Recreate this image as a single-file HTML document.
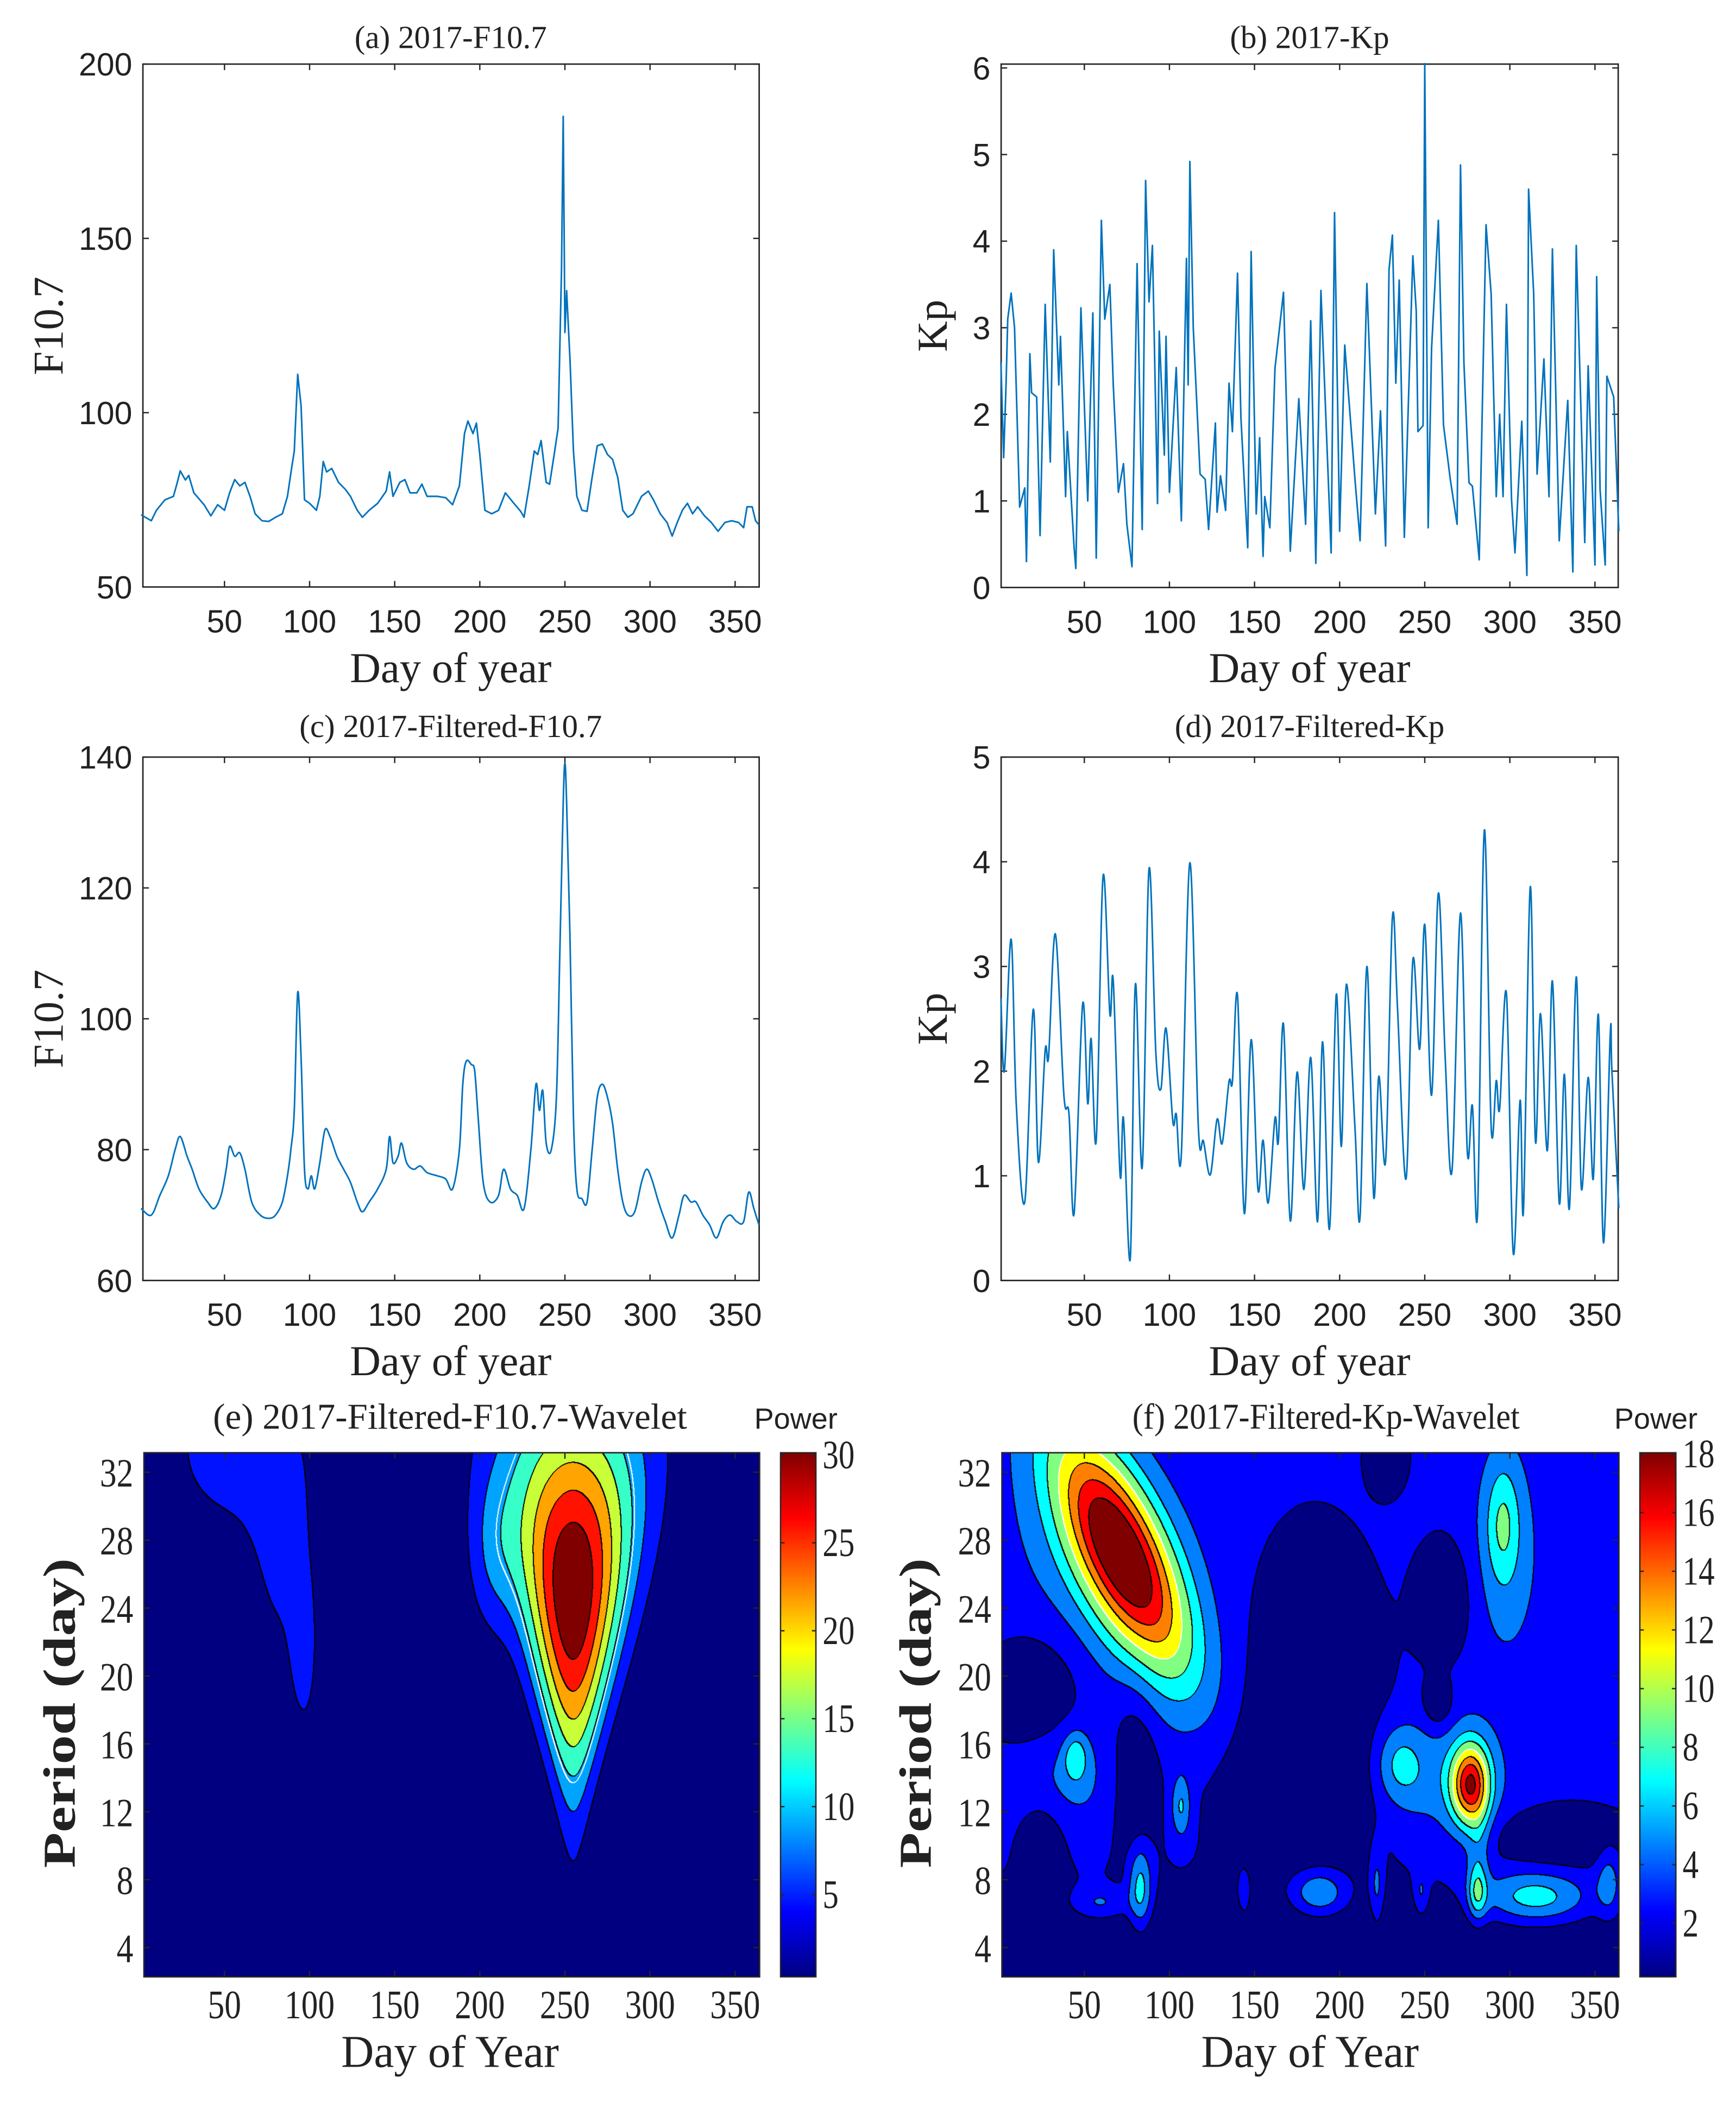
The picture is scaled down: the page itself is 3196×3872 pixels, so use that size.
<!DOCTYPE html>
<html><head><meta charset="utf-8">
<style>
html,body{margin:0;padding:0;background:#fff;}
#wrap{position:relative;width:3196px;height:3872px;overflow:hidden;background:#fff;}
canvas{position:absolute;}
svg{position:absolute;left:0;top:0;}
</style></head>
<body>
<div id="wrap">
<canvas id="cvE"></canvas>
<canvas id="cvF"></canvas>
<svg id="svg" width="3196" height="3872" viewBox="0 0 1300 1575" xmlns="http://www.w3.org/2000/svg">
<defs>
<linearGradient id="jetGrad" x1="0" y1="1" x2="0" y2="0">
<stop offset="0" stop-color="#000080"/><stop offset="0.125" stop-color="#0000ff"/><stop offset="0.375" stop-color="#00ffff"/><stop offset="0.625" stop-color="#ffff00"/><stop offset="0.875" stop-color="#ff0000"/><stop offset="1" stop-color="#800000"/>
</linearGradient>
</defs>
</svg>
</div>
<script>
// ---------------- DATA ----------------
const f107Days = [1,7,10,15,20,22,24,27,29,32,38,42,46,50,53,56,59,62,65,68,72,76,80,84,87,89,91,93,95,97,100,104,106,108,110,113,117,121,124,128,131,135,140,145,147,149,153,156,159,163,166,169,175,180,184,188,191,193,196,198,200,203,207,211,215,220,224,226,229,232,234,236,239,241,244,246,248,249,250,251,253,255,257,260,263,266,269,272,275,278,281,284,287,290,295,299,302,306,310,313,316,319,322,325,328,332,336,340,344,348,352,355,357,360,362,364];
const f107Vals = [70.7,69,72,75,76,79.5,83.3,80.7,82,77,73.6,70.4,73.6,72,77,80.8,79,80,76,71,69,68.8,70,71,76,82.7,89,111,102,75,74,72,76,86,83,84,80,78,76,72,70,72,74,77.5,83,76,80,80.8,77,77,79.5,76,76,75.6,73.6,79,94,97.6,94,97,88,72,71,72,77,74,71.7,70,79,89,88,92,80,79.5,89,95.6,141,185,123,135,115,89,76,72,71.7,81.5,90.5,91,88,86.6,81.5,72,70,71,76,77.5,75,71,68.5,64.6,68.5,72,74,71,73,70.4,68.5,66,68.5,69,68.5,67,73,73,69,67.8];

const kpDays = [1,2.6,4,5,7,9,12,15,16,18,19,22,24,27,30,32,35,36,39,40,44,45,48,52,55,57,60,62,65,67,70,73,75,78,81,84,86,88,90,93,94,97,98,100,104,107,110,111,112,114,118,121,123,127,128,130,133,135,137,140,142,146,148,151,153,155,156,159,162,167,171,176,180,183,186,189,195,197,200,203,209,212,216,221,224,227,229,231,233,235,238,243,245,246,249,250,252,254,258,261,265,269,271,273,276,278,282,286,289,292,294,296,298,301,303,307,310,311,314,316,320,323,325,329,334,337,339,344,346,350,351,353,356,357,361,364];
const kpVals = [2.6,1.5,2.34,3.1,3.4,3.0,0.93,1.15,0.3,2.7,2.25,2.2,0.6,3.27,1.45,3.9,2.34,2.9,1.05,1.8,0.46,0.22,3.23,1.0,3.17,0.34,4.24,3.1,3.5,2.34,1.1,1.43,0.73,0.24,3.74,0.67,4.7,3.3,3.95,0.97,2.96,1.53,2.9,1.1,2.54,0.77,3.8,2.34,4.92,3.0,1.31,1.25,0.67,1.9,0.87,1.29,0.89,2.36,1.8,3.63,1.96,0.46,3.88,0.85,1.73,0.36,1.05,0.69,2.53,3.41,0.42,2.18,0.73,3.08,0.28,3.43,0.4,4.33,0.65,2.8,1.25,0.54,3.51,0.85,2.04,0.48,3.67,4.07,2.36,3.55,0.58,3.83,3.19,1.8,1.87,6.05,0.69,2.76,4.24,1.88,1.25,0.73,4.88,2.6,1.21,1.17,0.32,4.19,3.39,1.05,2.0,1.05,3.27,1.01,0.4,1.92,0.14,4.6,3.39,1.31,2.64,1.05,3.91,0.54,2.16,0.18,3.95,0.52,2.56,0.26,3.59,1.13,0.26,2.44,2.2,0.65];

const ff107Days = [1,7,12,17,21,24,28,31,35,40,44,48,51,53,56,59,62,66,71,76,80,84,87,89,91,93,95,97,99,101,103,106,109,112,116,120,124,128,131,135,140,145,147,149,152,154,157,161,165,169,175,180,184,188,190,192,195,197,199,202,206,211,214,218,222,226,230,233,235,237,239,242,245,247,249,250,251,253,255,257,260,263,266,269,272,275,278,281,284,287,291,295,298,301,305,309,313,317,320,324,327,331,335,339,343,347,351,355,358,361,364];
const ff107Vals = [71,70,73,76,80,82,79,77,74,72,71,73,77,80.5,79,79.5,77,72,70,69.5,70,72,76,80,86,104,94,77,74,76,74,78,83,82,79,77,75,72,70.5,72,74,77,82,78,79,81,78,77,77.5,76.5,76,75.5,74,80,90,93.5,93,92,85,75,72,73,77,74,73,71,80,90,86,89,81,80,88,110,133,139,133,112,85,74,72.5,72,80,88,90,88,84,77,72,70,70.5,75,77,75.5,72,69,66.5,70,73,72,72,70,68.5,66.5,69,70,69,69,73.5,71,68.5];

const fkpDays = [1,3,7,10,15,20,23,27,29,33,38,41,44,49,52,54,57,61,65,67,71,73,77,80,84,88,92,95,98,102,104,107,112,117,120,124,128,131,135,137,140,144,148,152,155,158,162,164,167,171,175,179,183,187,190,194,198,201,204,209,212,216,220,223,227,231,234,239,243,247,250,254,258,262,266,271,275,278,281,285,289,292,294,298,302,306,308,312,315,318,322,325,329,332,335,339,342,346,349,352,355,359,360,364];
const fkpVals = [2.7,2.0,3.26,1.69,0.75,2.59,1.13,2.2,2.14,3.31,1.77,1.59,0.64,2.64,1.69,2.31,1.34,3.86,2.55,2.86,1.01,1.55,0.21,2.83,1.08,3.93,2.18,1.83,2.41,1.52,1.59,1.21,3.99,1.46,1.33,1.01,1.54,1.31,1.9,1.9,2.72,0.64,2.3,0.87,1.34,0.74,1.55,1.33,2.45,0.57,1.99,0.87,2.13,0.56,2.28,0.49,2.73,1.28,2.83,1.46,0.61,3.0,0.8,1.95,1.14,3.47,2.6,0.97,3.06,2.21,3.4,1.77,3.7,2.13,1.05,3.51,1.23,1.67,0.64,4.3,1.47,1.91,1.64,2.74,0.26,1.72,0.67,3.76,1.33,2.55,1.24,2.86,0.74,1.97,0.69,2.9,0.88,1.94,0.97,2.54,0.36,2.36,1.98,0.69];

// wavelet power features (summed): centre day, centre period, sd day, sd period, power, width exponent, tilt
const waveEBase = 0;
const waveEDay = [255, 55, 85, 97, 207];
const waveEPer = [25, 33.5, 27, 21, 27];
const waveESdD = [22, 30, 14, 6, 11];
const waveESdP = [7.8, 4, 5, 3.5, 3.5];
const waveEAmp = [30, 5.5, 4.5, 4.5, 5];
const waveEK   = [1.3, 0, 0, 0, 0];
const waveERho = [0, 0, 0, 0, 0];

const waveFBase = 2.6;
const waveFDay = [72,45,107,296,298,258,235,277,282,83,60,144,188,222,248,281,315,358,40,60,
                  185,178,262,258,20,80,25,180,228,330];
const waveFPer = [27.2,15.2,12.3,29,27,14,14.8,13.6,10,7.5,6.6,7.2,7.2,7.5,7.2,7.2,6.9,7.8,14,27,
                  20,13,24.5,18.3,19,14,10,4,33,10.5];
const waveFSdD = [28,5,4,7,16,28,10,8,5,5,12,2.5,12,3,3,4,22,5,22,40,
                  28,38,12,6,20,10,10,400,8,30];
const waveFSdP = [5,1,1.3,2.5,5,2.6,1.6,1.7,2,1.8,0.7,0.9,1,1.8,1,1.2,1.1,1.5,2.2,5,
                  6,3.5,2.5,1,2.5,4,2,2.5,1.5,1.3];
const waveFAmp = [14.5,4,4,4,2.2,2.5,3.5,12,2,5.5,3,2.8,5,3,2.6,5,5.5,3,2,2.2,
                  -2.6,-2.6,-2.6,-2.6,-2.6,-2.6,-2.6,-2.6,-2.6,-2.6];
const waveFRho = [-0.7,0,0,0,0,0,0,0,0,0,0,0,0,0,0,0,0,0,0,-0.3,
                  0,0,0,0,0,0,0,0,0,0];

const eLevels = [3.75,7.5,11.25,15,18.75,22.5,26.25];
const fLevels = [2,4,6,8,10,12,14,16];

const xTicks = [50,100,150,200,250,300,350];
const aTicks = [50,100,150,200];
const bTicks = [0,1,2,3,4,5,6];
const cTicks = [60,80,100,120,140];
const dTicks = [0,1,2,3,4,5];
const pTicks = [4,8,12,16,20,24,28,32];
const ceTicks = [5,10,15,20,25,30];
const cfTicks = [2,4,6,8,10,12,14,16,18];

// --------------- HELPERS ---------------
const NS='http://www.w3.org/2000/svg';
const svg=document.getElementById('svg');
const S=3196/1300;
function el(tag,attrs,parent){const e=document.createElementNS(NS,tag);for(const k in attrs)e.setAttribute(k,attrs[k]);(parent||svg).appendChild(e);return e;}
function lin(d0,r0,d1,r1){return v=>r0+(v-d0)*(r1-r0)/(d1-d0);}
const LEFT={x0:107,x1:568.5};
const RIGHT={x0:749.7,x1:1211.8};
const xL=lin(50,168.1,350,550.5);
const xR=lin(50,812,350,1194.4);
const SANS='"Liberation Sans", Arial, sans-serif';
const SERIF='"Liberation Serif", "Times New Roman", serif';

function text(str,x,y,opt,name){
  const t=el('text',{x:x,y:y,'font-family':opt.font||SERIF,'font-size':opt.size||24,'text-anchor':opt.anchor||'middle',fill:'#222'});
  if(opt.rot) t.setAttribute('transform','rotate(-90 '+x+' '+y+')');
  if(opt.len){t.setAttribute('textLength',opt.len);t.setAttribute('lengthAdjust','spacingAndGlyphs');}
  if(opt.weight) t.setAttribute('font-weight',opt.weight);
  t.textContent=str;
  
  
  return t;
}

function axes(box,xs,xticks,ys,yticks,opts){
  const g=el('g',{});
  
  
  const r=el('rect',{x:box.x0,y:box.y0,width:box.x1-box.x0,height:box.y1-box.y0,fill:'none',stroke:'#262626','stroke-width':1.1},g);
  
  
  const tl=4.5;
  xticks.forEach(v=>{
    const x=xs(v);
    const t1=el('line',{x1:x,x2:x,y1:box.y1,y2:box.y1-tl,stroke:'#262626','stroke-width':1},g);
    
    
    const t2=el('line',{x1:x,x2:x,y1:box.y0,y2:box.y0+tl,stroke:'#262626','stroke-width':1},g);
    
    
    const lb=text(String(v),x,box.y1+opts.xlabOff,{font:opts.tickFont,size:opts.tickSize,len:opts.xTickLen?opts.xTickLen*String(v).length:null},'x-tick-label');
    g.appendChild(lb);
  });
  yticks.forEach(v=>{
    const y=ys(v);
    const t1=el('line',{x1:box.x0,x2:box.x0+tl,y1:y,y2:y,stroke:'#262626','stroke-width':1},g);
    
    
    const t2=el('line',{x1:box.x1,x2:box.x1-tl,y1:y,y2:y,stroke:'#262626','stroke-width':1},g);
    
    
    const lb=text(String(v),box.x0-8,y+opts.tickSize*0.36,{font:opts.tickFont,size:opts.tickSize,anchor:'end',len:opts.yTickLen?opts.yTickLen*String(v).length:null},'y-tick-label');
    g.appendChild(lb);
  });
  return g;
}

function seriesPath(days,vals,xs,ys,smooth){
  const pts=days.map((d,i)=>[xs(d),ys(vals[i])]);
  let d='M'+pts[0][0].toFixed(2)+','+pts[0][1].toFixed(2);
  if(!smooth){for(let i=1;i<pts.length;i++)d+='L'+pts[i][0].toFixed(2)+','+pts[i][1].toFixed(2);}
  else{
    for(let i=0;i<pts.length-1;i++){
      const p0=pts[Math.max(0,i-1)],p1=pts[i],p2=pts[i+1],p3=pts[Math.min(pts.length-1,i+2)];
      const c1=[p1[0]+(p2[0]-p0[0])/6,p1[1]+(p2[1]-p0[1])/6];
      const c2=[p2[0]-(p3[0]-p1[0])/6,p2[1]-(p3[1]-p1[1])/6];
      d+='C'+c1[0].toFixed(2)+','+c1[1].toFixed(2)+' '+c2[0].toFixed(2)+','+c2[1].toFixed(2)+' '+p2[0].toFixed(2)+','+p2[1].toFixed(2);
    }
  }
  return d;
}

const lineOpts={xlabOff:34,tickFont:SANS,tickSize:24};

// ----- Panel A -----
const boxA={x0:LEFT.x0,x1:LEFT.x1,y0:48,y1:439.6};
const yA=lin(50,boxA.y1,200,boxA.y0);
axes(boxA,xL,xTicks,yA,aTicks,Object.assign({name:'panel-a'},lineOpts));
let p=el('path',{d:seriesPath(f107Days,f107Vals,xL,yA,false),fill:'none',stroke:'#0072BD','stroke-width':1.2,'stroke-linejoin':'round'});


text('(a) 2017-F10.7',337.5,36,{size:24},'panel-a-title');
text('Day of year',337.5,511,{size:32},'panel-a-x-axis-title');
text('F10.7',47,244,{size:32,rot:true},'panel-a-y-axis-title');

// ----- Panel B -----
const boxB={x0:RIGHT.x0,x1:RIGHT.x1,y0:48,y1:440};
const yB=lin(0,440,6,50.9);
axes(boxB,xR,xTicks,yB,bTicks,Object.assign({name:'panel-b'},lineOpts));
p=el('path',{d:seriesPath(kpDays,kpVals,xR,yB,false),fill:'none',stroke:'#0072BD','stroke-width':1.2,'stroke-linejoin':'round'});


text('(b) 2017-Kp',980.7,36,{size:24},'panel-b-title');
text('Day of year',980.7,511,{size:32},'panel-b-x-axis-title');
text('Kp',709,244,{size:32,rot:true},'panel-b-y-axis-title');

// ----- Panel C -----
const boxC={x0:LEFT.x0,x1:LEFT.x1,y0:567,y1:959};
const yC=lin(60,959,140,567);
axes(boxC,xL,xTicks,yC,cTicks,Object.assign({name:'panel-c'},lineOpts));
p=el('path',{d:seriesPath(ff107Days,ff107Vals,xL,yC,true),fill:'none',stroke:'#0072BD','stroke-width':1.2,'stroke-linejoin':'round'});


text('(c) 2017-Filtered-F10.7',337.5,552,{size:24},'panel-c-title');
text('Day of year',337.5,1030,{size:32},'panel-c-x-axis-title');
text('F10.7',47,763,{size:32,rot:true},'panel-c-y-axis-title');

// ----- Panel D -----
const boxD={x0:RIGHT.x0,x1:RIGHT.x1,y0:567,y1:959};
const yD=lin(0,959,5,567);
axes(boxD,xR,xTicks,yD,dTicks,Object.assign({name:'panel-d'},lineOpts));
p=el('path',{d:seriesPath(fkpDays,fkpVals,xR,yD,true),fill:'none',stroke:'#0072BD','stroke-width':1.2,'stroke-linejoin':'round'});


text('(d) 2017-Filtered-Kp',980.7,552,{size:24},'panel-d-title');
text('Day of year',980.7,1030,{size:32},'panel-d-x-axis-title');
text('Kp',709,763,{size:32,rot:true},'panel-d-y-axis-title');

// ----- Wavelets -----
function jet(t){t=Math.max(0,Math.min(1,t));const c=v=>Math.max(0,Math.min(1,v));return [c(1.5-Math.abs(4*t-3)),c(1.5-Math.abs(4*t-2)),c(1.5-Math.abs(4*t-1))].map(v=>Math.round(v*255));}

const yP=lin(32,1102.6,4,1458.6);
function drawWavelet(cvId,box,xs,base,bd,bp,bsd,bsp,ba,bk,br,levels,whiteLevel){
  const cv=document.getElementById(cvId);
  const W=Math.round((box.x1-box.x0)*S),H=Math.round((box.y1-box.y0)*S);
  cv.width=W;cv.height=H;
  cv.style.left=(box.x0*S)+'px';cv.style.top=(box.y0*S)+'px';
  cv.style.width=W+'px';cv.style.height=H+'px';
  const ctx=cv.getContext('2d');
  const img=ctx.createImageData(W,H);
  const dayAt=lin(xs(0),0,xs(100),100);
  const perAt=lin(yP(0),0,yP(10),10);
  const F=new Float32Array(W*H),L=new Uint8Array(W*H);
  for(let j=0;j<H;j++){
    const per=perAt(box.y0+(j+0.5)/S);
    for(let i=0;i<W;i++){
      const day=dayAt(box.x0+(i+0.5)/S);
      let v=base;
      for(let b=0;b<bd.length;b++){
        const sd=bsd[b]*Math.pow(per/bp[b],bk[b]);
        const dx=(day-bd[b])/sd,dy=(per-bp[b])/bsp[b];
        const r=br[b];
        const q=(dx*dx-2*r*dx*dy+dy*dy)/(1-r*r);
        v+=ba[b]*Math.exp(-0.5*q);
      }
      if(v<0)v=0;
      F[j*W+i]=v;
      let k=0;while(k<levels.length&&v>=levels[k])k++;
      L[j*W+i]=k;
    }
  }
  const n=levels.length;
  const cols=[];for(let k=0;k<=n;k++)cols.push(jet(k/n));
  const nb=[[1,0],[2,0],[0,1],[0,2],[1,1]];
  for(let j=0;j<H;j++)for(let i=0;i<W;i++){
    const idx=j*W+i;let c=cols[L[idx]];
    let edge=false,white=false;
    for(const [a,b] of nb){
      const ii=i+a,jj=j+b;if(ii>=W||jj>=H)continue;
      const o=jj*W+ii;
      if(L[o]!==L[idx])edge=true;
      const lo=Math.min(F[o],F[idx]),hi=Math.max(F[o],F[idx]);
      if(lo<whiteLevel&&hi>=whiteLevel)white=true;
    }
    if(white)c=[255,255,255];else if(edge)c=[0,0,0];
    const q=idx*4;img.data[q]=c[0];img.data[q+1]=c[1];img.data[q+2]=c[2];img.data[q+3]=255;
  }
  ctx.putImageData(img,0,0);
}

const boxE={x0:107.8,x1:568.8,y0:1088,y1:1480.5};
const boxF={x0:750.3,x1:1212.3,y0:1088,y1:1480.5};
const waveFK = waveFDay.map(()=>0);
drawWavelet('cvE',boxE,xL,waveEBase,waveEDay,waveEPer,waveESdD,waveESdP,waveEAmp,waveEK,waveERho,eLevels,10.5);
drawWavelet('cvF',boxF,xR,waveFBase,waveFDay,waveFPer,waveFSdD,waveFSdP,waveFAmp,waveFK,waveFRho,fLevels,10);

const wOpts={xlabOff:31,tickFont:SERIF,tickSize:30,xTickLen:12.5,yTickLen:12.5};
axes(boxE,xL,xTicks,yP,pTicks,Object.assign({name:'panel-e'},wOpts));
axes(boxF,xR,xTicks,yP,pTicks,Object.assign({name:'panel-f'},wOpts));
text('(e) 2017-Filtered-F10.7-Wavelet',337,1070,{size:27,len:355},'panel-e-title');
text('(f) 2017-Filtered-Kp-Wavelet',993,1070,{size:27,len:290},'panel-f-title');
text('Day of Year',337,1548,{size:34,len:163},'panel-e-x-axis-title');
text('Day of Year',981,1548,{size:34,len:163},'panel-f-x-axis-title');
text('Period (day)',56,1283,{size:34,rot:true,len:232,weight:'bold'},'panel-e-y-axis-title');
text('Period (day)',697,1283,{size:34,rot:true,len:232,weight:'bold'},'panel-f-y-axis-title');

// colorbars
function colorbar(box,vs,ticks,name){
  const r=el('rect',{x:box.x0,y:box.y0,width:box.x1-box.x0,height:box.y1-box.y0,fill:'url(#jetGrad)',stroke:'#262626','stroke-width':1});
  
  
  ticks.forEach(v=>{
    const y=vs(v);
    const t=el('line',{x1:box.x0,x2:box.x0+3,y1:y,y2:y,stroke:'#262626','stroke-width':1});
    
    
    const t2=el('line',{x1:box.x1,x2:box.x1-3,y1:y,y2:y,stroke:'#262626','stroke-width':1});
    
    
    text(String(v),box.x1+5,y+10,{size:30,anchor:'start',len:12*String(v).length},name+'-tick-label');
  });
}
const cbE={x0:584.5,x1:611,y0:1088,y1:1480.5};
const cbF={x0:1228,x1:1255,y0:1088,y1:1480.5};
colorbar(cbE,lin(30,1089.6,5,1418.9),ceTicks,'colorbar-e');
colorbar(cbF,lin(18,1088.9,2,1440.4),cfTicks,'colorbar-f');
text('Power',596,1070,{font:SANS,size:22},'colorbar-e-title');
text('Power',1240,1070,{font:SANS,size:22},'colorbar-f-title');
</script>
</body></html>
